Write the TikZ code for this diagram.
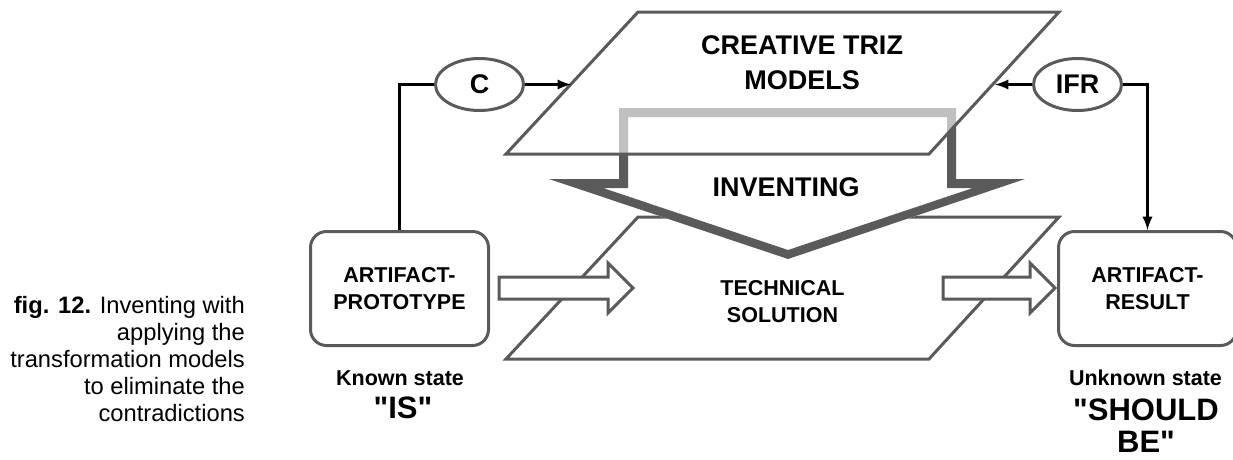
\documentclass[tikz,border=0pt]{standalone}
\usepackage{fontspec}
\setmainfont{Liberation Sans}
\usetikzlibrary{arrows,shapes.geometric}
\definecolor{edgegray}{HTML}{5A5A5A}
\tikzset{
  plane/.style={draw=edgegray,line width=3pt,line join=miter},
  artbox/.style={draw=edgegray,line width=3pt,rounded corners=16pt,minimum width=178pt,
    minimum height=114pt,align=center,font=\bfseries\fontsize{21.5}{27}\selectfont},
  oval/.style={ellipse,draw=edgegray,line width=3pt,minimum width=88pt,minimum height=52pt,
    inner sep=0pt,font=\bfseries\fontsize{27}{30}\selectfont},
  link/.style={line width=3.5pt,-latex},
  hollow/.style={draw=edgegray,line width=3pt,fill=white,line join=miter},
  planetext/.style={align=center,inner sep=0pt,font=\bfseries\fontsize{27}{35}\selectfont},
  statetext/.style={align=center,inner sep=0pt,font=\bfseries\fontsize{21.5}{27}\selectfont},
  bigstate/.style={align=center,inner sep=0pt,font=\bfseries\fontsize{31}{32}\selectfont},
  figcap/.style={align=right,inner sep=0pt,font=\fontsize{23.7}{27}\selectfont}
}
\begin{document}
\begin{tikzpicture}[x=1pt,y=-1pt]
  \useasboundingbox (0,0) rectangle (1233,459);
  % lower plane
  \draw[plane,fill=white] (506,359) -- (929,359) -- (1059,217) -- (638,217) -- cycle;
  \node[statetext] (tech) at (782.5,301.5) {TECHNICAL\\SOLUTION};
  % hollow arrows into and out of the lower plane
  \foreach \s/\e in {499/633, 943/1055} {
    \draw[hollow] (\s,277) -- (\e-25,277) -- (\e-25,263) -- (\e,288)
      -- (\e-25,313) -- (\e-25,299) -- (\s,299) -- cycle;
  }
  % inventing arrow
  \fill[white] (549,179) -- (619,179) -- (619,108) -- (956,108) -- (956,179)
    -- (1025,179) -- (788,259) -- cycle;
  \fill[edgegray,even odd rule] (549,179) -- (619,179) -- (619,108) -- (956,108) -- (956,179)
    -- (1025,179) -- (788,259) -- cycle
    (628,117) -- (947,117) -- (947,188) -- (973,188) -- (788,250) -- (603,188) -- (628,188) -- cycle;
  % upper plane
  \draw[plane,fill=white,fill opacity=0.62] (506,154) -- (929,154) -- (1059,12) -- (638,12) -- cycle;
  \node[planetext] (models) at (802,62.5) {CREATIVE TRIZ\\MODELS};
  \node[planetext] (invent) at (786,187) {INVENTING};
  % boxes and ovals
  \node[artbox] (proto) at (399.5,288.5) {ARTIFACT-\\PROTOTYPE};
  \node[artbox] (result) at (1147.5,288.5) {ARTIFACT-\\RESULT};
  \node[oval] (c) at (479.5,84.5) {C};
  \node[oval] (ifr) at (1077.5,84.5) {IFR};
  \coordinate (cin) at (571,84.5);
  \coordinate (ifrin) at (995,84.5);
  \draw[line width=3.5pt] (proto.north) |- (c.west);
  \draw[link] (c.east) -- (cin);
  \draw[link] (ifr.west) -- (ifrin);
  \draw[link] (ifr.east) -| (result.north);
  % states
  \node[statetext] (known) at (400,378) {Known state};
  \node[bigstate] (is) at (403,408) {\textquotedbl IS\textquotedbl};
  \node[statetext] (unknown) at (1145.5,378) {Unknown state};
  \node[bigstate] (should) at (1146,426) {\textquotedbl SHOULD\\BE\textquotedbl};
  % caption
  \node[figcap,anchor=east] (cap) at (245,359) {{\bfseries fig. 12.} Inventing with\\applying the\\transformation models\\to eliminate the\\contradictions};
\end{tikzpicture}
\end{document}
